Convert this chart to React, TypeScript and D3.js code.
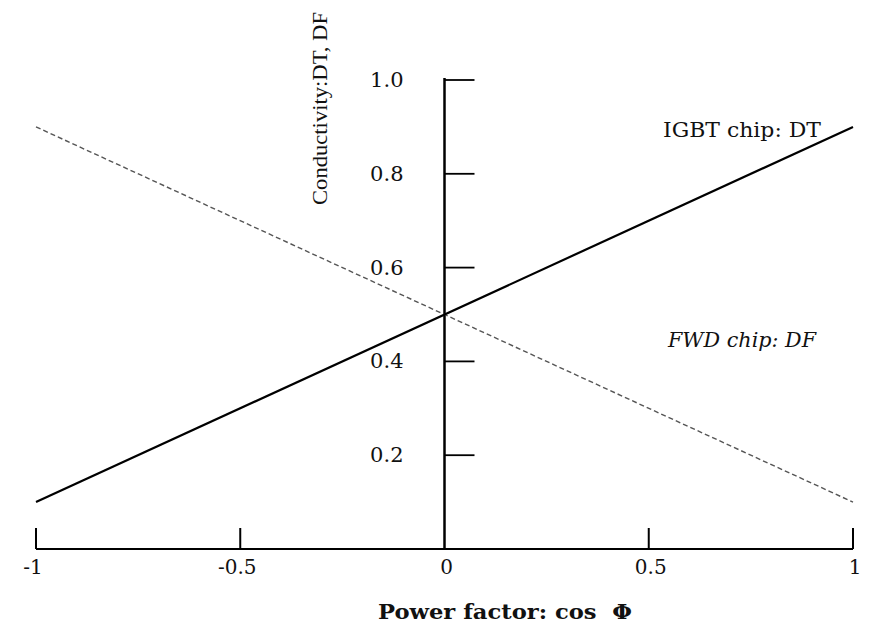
import * as d3 from "d3";

// power factor cos phi from -1 to 1
const powerFactor = [-1, 1];
const igbtDT = [0.1, 0.9];
const fwdDF = [0.9, 0.1];

const xTicks = [-1, -0.5, 0, 0.5, 1];
const xTickLabels = ["-1", "-0.5", "0", "0.5", "1"];
const yTicks = [0.2, 0.4, 0.6, 0.8, 1.0];
const yTickLabels = ["0.2", "0.4", "0.6", "0.8", "1.0"];

const width = 869;
const height = 634;

export default function App() {
  const x = d3.scaleLinear().domain([-1, 1]).range([36, 853]);
  const y = d3.scaleLinear().domain([0, 1]).range([549, 80]);

  const line = d3
    .line<number>()
    .x((_, i) => x(powerFactor[i]))
    .y((d) => y(d));

  const serif = "'DejaVu Serif', 'Liberation Serif', serif";

  return (
    <svg
      width={width}
      height={height}
      style={{ position: "absolute", left: 0, top: 0, background: "#fff" }}
    >
      {/* x axis */}
      <line x1={x(-1)} x2={x(1)} y1={y(0)} y2={y(0)} stroke="#000" strokeWidth={2} />
      {xTicks.map((t, i) => (
        <g key={"xt" + i}>
          {t !== 0 && (
            <line x1={x(t)} x2={x(t)} y1={y(0)} y2={y(0) - 21} stroke="#000" strokeWidth={2} />
          )}
          <text
            x={x(t) + (t < 0 ? -3 : 2)}
            y={y(0) + 25}
            textAnchor="middle"
            fontFamily={serif}
            fontSize={20}
            fill="#111"
          >
            {xTickLabels[i]}
          </text>
        </g>
      ))}

      {/* y axis */}
      <line x1={x(0)} x2={x(0)} y1={y(1) - 2} y2={y(0)} stroke="#000" strokeWidth={2.5} />
      {yTicks.map((t, i) => (
        <g key={"yt" + i}>
          <line x1={x(0)} x2={x(0) + 30} y1={y(t)} y2={y(t)} stroke="#000" strokeWidth={1.8} />
          <text
            x={x(0) - 41}
            y={y(t) + 7}
            textAnchor="end"
            fontFamily={serif}
            fontSize={21}
            fill="#111"
          >
            {yTickLabels[i]}
          </text>
        </g>
      ))}

      {/* FWD chip DF, dashed */}
      <path
        d={line(fwdDF) || ""}
        fill="none"
        stroke="#555"
        strokeWidth={1.4}
        strokeDasharray="5 3"
      />
      {/* IGBT chip DT, solid */}
      <path d={line(igbtDT) || ""} fill="none" stroke="#000" strokeWidth={2.2} />

      <text x={663} y={137} fontFamily={serif} fontSize={21} textLength={158} lengthAdjust="spacingAndGlyphs" fill="#111">
        IGBT chip: DT
      </text>
      <text
        x={668}
        y={347}
        fontFamily={serif}
        fontSize={21}
        fontStyle="italic"
        textLength={148}
        lengthAdjust="spacingAndGlyphs"
        fill="#111"
      >
        FWD chip: DF
      </text>

      {/* axis titles */}
      <text
        x={378}
        y={619}
        fontFamily={serif}
        fontSize={20}
        fontWeight="bold"
        textLength={254}
        lengthAdjust="spacingAndGlyphs"
        fill="#111"
        xmlSpace="preserve"
      >
        Power factor: cos  Φ
      </text>
      <text
        transform="translate(327,205) rotate(-90)"
        fontFamily="'Liberation Serif', serif"
        fontSize={20}
        textLength={193}
        lengthAdjust="spacingAndGlyphs"
        fill="#111"
      >
        Conductivity:DT, DF
      </text>
    </svg>
  );
}
